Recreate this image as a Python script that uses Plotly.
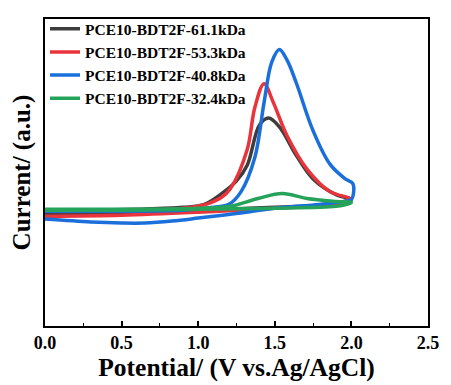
import plotly.graph_objects as go

names = ["PCE10-BDT2F-61.1kDa", "PCE10-BDT2F-53.3kDa", "PCE10-BDT2F-40.8kDa", "PCE10-BDT2F-32.4kDa"]
colors = ["#3d3d3d", "#e8343a", "#1a6fdb", "#26a35a"]

# Potential (V) and current (a.u.) for each closed CV loop: forward scan then reverse
x_black = [0.0, 0.3, 0.6, 0.9, 1.04, 1.17, 1.25, 1.32, 1.40, 1.46, 1.53, 1.64, 1.75, 1.90, 2.0,
           1.97, 1.9, 1.5, 1.0, 0.5, 0.0]
y_black = [118, 118, 119, 121, 124, 137, 148, 164, 205, 212, 203, 174, 150, 134, 129,
           127, 124, 121, 118, 115, 114]

x_red = [0.0, 0.5, 0.9, 1.05, 1.15, 1.21, 1.32, 1.37, 1.43, 1.49, 1.58, 1.71, 1.86, 1.99,
         1.97, 1.9, 1.5, 1.0, 0.5, 0.0]
y_red = [117, 117, 120, 124, 131, 140, 180, 223, 247, 228, 194, 160, 137, 130,
         128, 124, 120, 116, 113, 112]

x_blue = [0.0, 0.5, 0.9, 1.1, 1.2, 1.28, 1.37, 1.43, 1.48, 1.53, 1.58, 1.64, 1.75, 1.86, 1.96, 2.01,
          2.0, 1.95, 1.79, 1.5, 1.26, 1.0, 0.83, 0.65, 0.5, 0.3, 0.0]
y_blue = [117, 117, 118, 121, 124, 137, 172, 228, 269, 282, 271, 248, 199, 165, 150, 145,
          129, 127, 124, 120, 115, 110, 107, 105, 105, 106, 109]

x_green = [0.0, 0.5, 1.0, 1.21, 1.39, 1.55, 1.71, 1.90, 2.0,
           1.97, 1.9, 1.5, 1.0, 0.5, 0.0]
y_green = [119, 119, 120, 122, 130, 135, 130, 127, 126,
           124, 122, 120, 119, 118, 118]

xs = [x_black, x_red, x_blue, x_green]
ys = [y_black, y_red, y_blue, y_green]

fig = go.Figure()
for n, c, x, y in zip(names, colors, xs, ys):
    fig.add_trace(go.Scatter(x=x, y=y, mode="lines", name=n,
                             line=dict(color=c, width=3.5, shape="spline", smoothing=1.0)))

font_fam = "Liberation Serif, Times New Roman, serif"
fig.update_layout(
    width=451, height=385,
    margin=dict(l=45, r=18, t=14, b=59),
    plot_bgcolor="white", paper_bgcolor="white",
    font=dict(family=font_fam, color="black"),
    showlegend=True,
    legend=dict(x=0.0, y=1.022, xanchor="left", yanchor="top",
                bgcolor="rgba(0,0,0,0)", borderwidth=0,
                font=dict(family=font_fam, size=15.5, color="black", weight="bold"),
                tracegroupgap=0, itemwidth=30),
    xaxis=dict(range=[0, 2.5], dtick=0.5, tickformat=".1f", ticks="inside", ticklen=5,
               tickwidth=1.5, tickcolor="black",
               minor=dict(dtick=0.25, ticks="inside", ticklen=3, tickwidth=1.2, tickcolor="black"),
               showline=True, linewidth=1.5, linecolor="black", mirror=True, showgrid=False,
               zeroline=False,
               tickfont=dict(family=font_fam, size=18, color="black", weight="bold"),
               title=dict(text="Potential/ (V vs.Ag/AgCl)", standoff=2,
                          font=dict(family=font_fam, size=25.5, color="black", weight="bold"))),
    yaxis=dict(range=[0, 313], showticklabels=False, ticks="", showline=True, linewidth=1.5,
               linecolor="black", mirror=True, showgrid=False, zeroline=False,
               title=dict(text="Current/ (a.u.)", standoff=6,
                          font=dict(family=font_fam, size=25, color="black", weight="bold"))),
)
fig.write_html("out.html")
